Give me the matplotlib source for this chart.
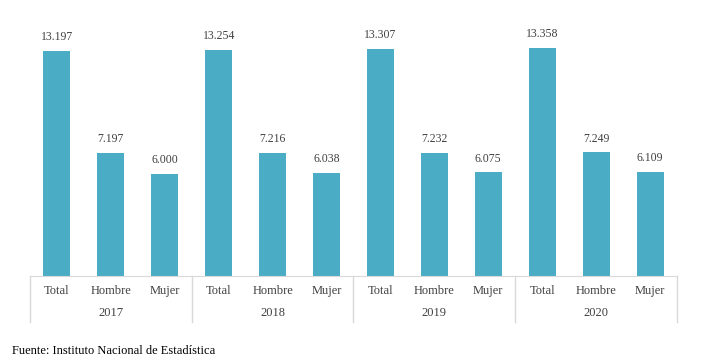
import numpy as np
import matplotlib.pyplot as plt

years = ['2017', '2018', '2019', '2020']
cats = ['Total', 'Hombre', 'Mujer']
total = [13.197, 13.254, 13.307, 13.358]
hombre = [7.197, 7.216, 7.232, 7.249]
mujer = [6.000, 6.038, 6.075, 6.109]

plt.rcParams['font.family'] = ['Liberation Serif', 'DejaVu Serif']

vals = []
labs = []
for i in range(len(years)):
    vals += [total[i], hombre[i], mujer[i]]
    labs += cats

fig = plt.figure(figsize=(7.04, 3.62), dpi=100)
ax = fig.add_axes([30/704, 86/362, 647/704, 256/362])
x = np.arange(len(vals))
ax.bar(x, vals, width=0.5, color='#4BACC6')
for xi, v in zip(x, vals):
    ax.text(xi, v + 0.45, f'{v:.3f}', ha='center', va='bottom', fontsize=8.5, color='#404040')

ax.set_xlim(-0.5, len(vals) - 0.5)
ax.set_ylim(0, 15)
ax.set_yticks([])
ax.set_xticks([])
for s in ['top', 'right', 'left']:
    ax.spines[s].set_visible(False)
ax.spines['bottom'].set_color('#d9d9d9')

trans = ax.get_xaxis_transform()
for xi, l in zip(x, labs):
    ax.text(xi, -0.06, l, transform=trans, ha='center', va='center', fontsize=9, color='#404040')
for i, y in enumerate(years):
    ax.text(3 * i + 1, -0.145, y, transform=trans, ha='center', va='center', fontsize=9, color='#404040')
for i in range(len(years) + 1):
    ax.plot([3 * i - 0.5, 3 * i - 0.5], [0, -0.18], transform=trans, color='#d9d9d9', lw=1, clip_on=False)

fig.text(12/704, 1 - 351/362, 'Fuente: Instituto Nacional de Estadística', fontsize=9, color='black', va='center')

fig.savefig('out.png', dpi=100)
